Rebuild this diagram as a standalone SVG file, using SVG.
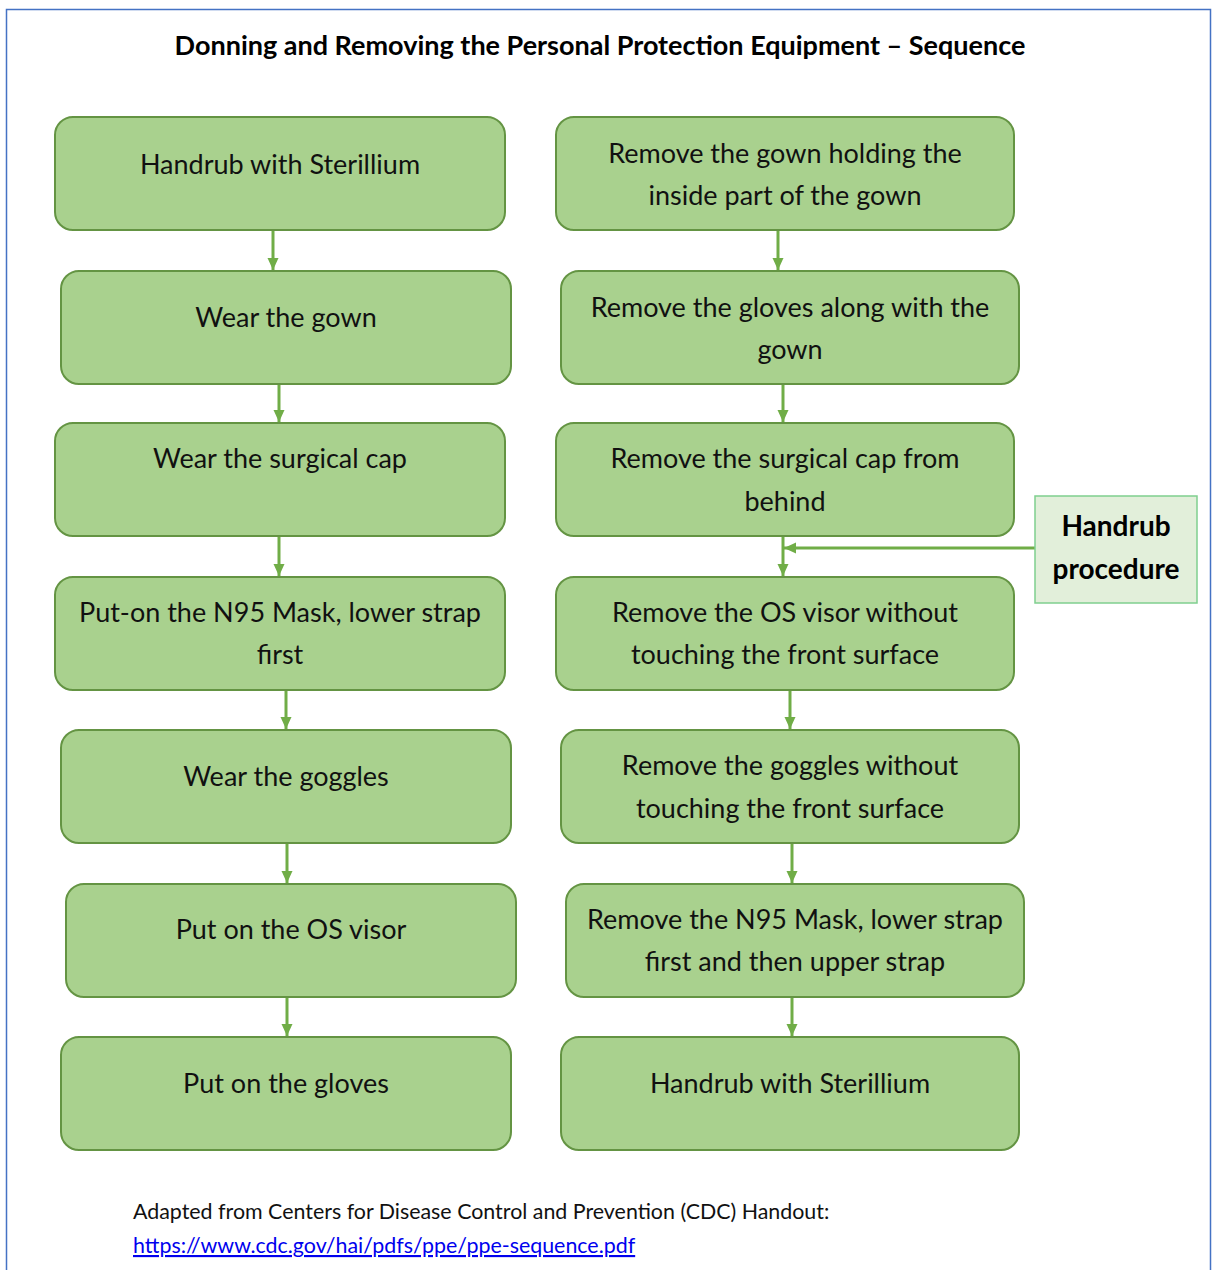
<svg xmlns="http://www.w3.org/2000/svg" width="1214" height="1270" viewBox="0 0 1214 1270">
<style>
.box{fill:#a9d18e;stroke:#649443;stroke-width:2}
.t{font-family:Lato,"Open Sans",sans-serif;font-size:27px;fill:#111;text-anchor:middle}
.c{stroke:#70ad47;stroke-width:3;fill:none}
.title{font-family:Lato,"Open Sans",sans-serif;font-size:27px;font-weight:bold;fill:#000;text-anchor:middle}
.hp{font-family:Lato,"Open Sans",sans-serif;font-size:28px;font-weight:bold;fill:#000;text-anchor:middle}
.foot{font-family:Lato,"Open Sans",sans-serif;font-size:21.4px;fill:#111}
</style>
<defs>
<marker id="ah" markerUnits="userSpaceOnUse" markerWidth="14" markerHeight="14" viewBox="0 0 14 14" refX="12" refY="7" orient="auto">
<path d="M0,1.5 L12,7 L0,12.5 Z" fill="#70ad47"/>
</marker>
</defs>
<rect x="0" y="0" width="1214" height="1270" fill="#fff"/>
<rect x="6.5" y="9.5" width="1204" height="1275" fill="none" stroke="#4472c4" stroke-width="1.5"/>
<text class="title" x="600" y="55">Donning and Removing the Personal Protection Equipment – Sequence</text>

<g id="connectors">
<line class="c" x1="273" y1="230" x2="273" y2="270" marker-end="url(#ah)"/>
<line class="c" x1="279" y1="384" x2="279" y2="422" marker-end="url(#ah)"/>
<line class="c" x1="279" y1="536" x2="279" y2="576" marker-end="url(#ah)"/>
<line class="c" x1="286" y1="690" x2="286" y2="729" marker-end="url(#ah)"/>
<line class="c" x1="287" y1="843" x2="287" y2="883" marker-end="url(#ah)"/>
<line class="c" x1="287" y1="997" x2="287" y2="1036" marker-end="url(#ah)"/>
<line class="c" x1="778" y1="230" x2="778" y2="270" marker-end="url(#ah)"/>
<line class="c" x1="783" y1="384" x2="783" y2="422" marker-end="url(#ah)"/>
<line class="c" x1="783" y1="536" x2="783" y2="576" marker-end="url(#ah)"/>
<line class="c" x1="790" y1="690" x2="790" y2="729" marker-end="url(#ah)"/>
<line class="c" x1="792" y1="843" x2="792" y2="883" marker-end="url(#ah)"/>
<line class="c" x1="792" y1="997" x2="792" y2="1036" marker-end="url(#ah)"/>
<line class="c" x1="1035" y1="548" x2="784" y2="548" marker-end="url(#ah)"/>
</g>

<g id="L1"><rect class="box" x="55" y="117" width="450" height="113" rx="18"/><text class="t" x="280" y="174">Handrub with Sterillium</text></g>
<g id="L2"><rect class="box" x="61" y="271" width="450" height="113" rx="18"/><text class="t" x="286" y="327">Wear the gown</text></g>
<g id="L3"><rect class="box" x="55" y="423" width="450" height="113" rx="18"/><text class="t" x="280" y="468">Wear the surgical cap</text></g>
<g id="L4"><rect class="box" x="55" y="577" width="450" height="113" rx="18"/><text class="t" x="280" y="622">Put-on the N95 Mask, lower strap</text><text class="t" x="280" y="664">first</text></g>
<g id="L5"><rect class="box" x="61" y="730" width="450" height="113" rx="18"/><text class="t" x="286" y="786">Wear the goggles</text></g>
<g id="L6"><rect class="box" x="66" y="884" width="450" height="113" rx="18"/><text class="t" x="291" y="939">Put on the OS visor</text></g>
<g id="L7"><rect class="box" x="61" y="1037" width="450" height="113" rx="18"/><text class="t" x="286" y="1093">Put on the gloves</text></g>

<g id="R1"><rect class="box" x="556" y="117" width="458" height="113" rx="18"/><text class="t" x="785" y="163">Remove the gown holding the</text><text class="t" x="785" y="205">inside part of the gown</text></g>
<g id="R2"><rect class="box" x="561" y="271" width="458" height="113" rx="18"/><text class="t" x="790" y="317">Remove the gloves along with the</text><text class="t" x="790" y="359">gown</text></g>
<g id="R3"><rect class="box" x="556" y="423" width="458" height="113" rx="18"/><text class="t" x="785" y="468">Remove the surgical cap from</text><text class="t" x="785" y="511">behind</text></g>
<g id="R4"><rect class="box" x="556" y="577" width="458" height="113" rx="18"/><text class="t" x="785" y="622">Remove the OS visor without</text><text class="t" x="785" y="664">touching the front surface</text></g>
<g id="R5"><rect class="box" x="561" y="730" width="458" height="113" rx="18"/><text class="t" x="790" y="775">Remove the goggles without</text><text class="t" x="790" y="818">touching the front surface</text></g>
<g id="R6"><rect class="box" x="566" y="884" width="458" height="113" rx="18"/><text class="t" x="795" y="929">Remove the N95 Mask, lower strap</text><text class="t" x="795" y="971">first and then upper strap</text></g>
<g id="R7"><rect class="box" x="561" y="1037" width="458" height="113" rx="18"/><text class="t" x="790" y="1093">Handrub with Sterillium</text></g>

<g id="HP"><rect x="1035" y="496" width="162" height="107" fill="#e2efda" stroke="#7fcf8f" stroke-width="1.5"/><text class="hp" x="1116" y="536">Handrub</text><text class="hp" x="1116" y="579">procedure</text></g>

<text class="foot" x="133" y="1219">Adapted from Centers for Disease Control and Prevention (CDC) Handout:</text>
<text class="foot" x="133" y="1253" style="fill:#0000ee" text-decoration="underline">https://www.cdc.gov/hai/pdfs/ppe/ppe-sequence.pdf</text>
</svg>
